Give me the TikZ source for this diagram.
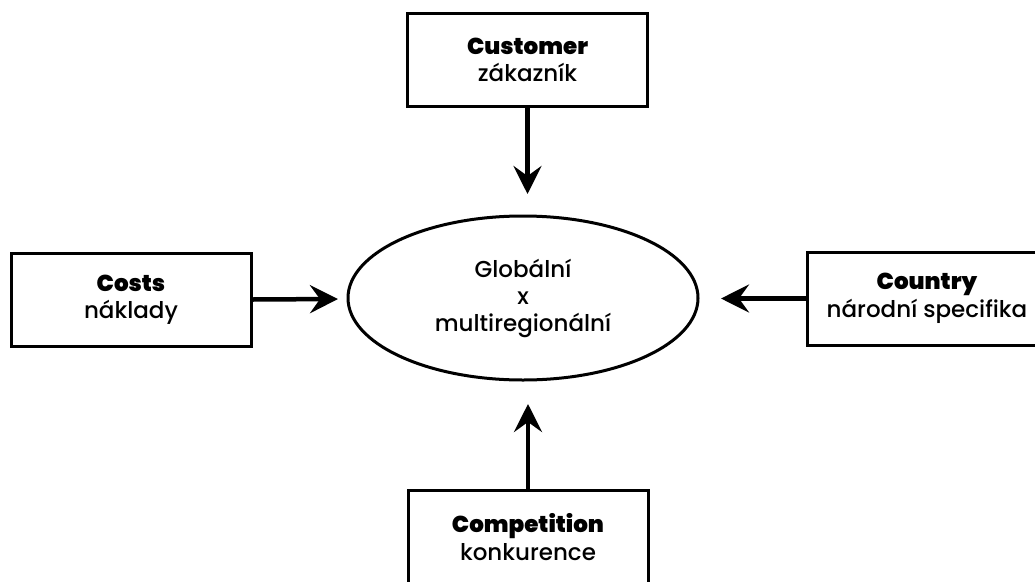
\documentclass[tikz,border=0pt]{standalone}
\usepackage{fontspec}
\setmainfont{Poppins Medium}[BoldFont={Poppins Black}]
\usetikzlibrary{arrows.meta,shapes.geometric}
\begin{document}
\begin{tikzpicture}[x=1pt,y=-1pt,
  factor/.style={draw=black,line width=3pt,minimum width=240pt,minimum height=93pt,
    align=center,inner sep=0pt,font=\fontsize{23}{27.5}\selectfont},
  core/.style={draw=black,ellipse,line width=3pt,minimum width=350pt,minimum height=164pt,
    align=center,inner sep=0pt,font=\fontsize{23}{27}\selectfont},
  push/.style={line width=4.5pt,-{Stealth[length=28pt,width=28pt,inset=10pt]}}]
\useasboundingbox (0,0) rectangle (1035,581);
\clip (0,0) rectangle (1035,581);
\fill[white] (0,0) rectangle (1035,581);

\node[core] (ell) at (523,298) {Globální\\x\\multiregionální};

\node[factor] (cust) at (527.5,60)  {\textbf{Customer}\\zákazník};
\node[factor] (cost) at (131,299.5) {\textbf{Costs}\\náklady};
\node[factor] (ctry) at (927,298.5) {\textbf{Country}\\národní specifika};
\node[factor] (comp) at (528,537)   {\textbf{Competition}\\konkurence};

\coordinate (tipT) at (527.5,194);
\coordinate (tipB) at (528,404);
\coordinate (tipL) at (338,299);
\coordinate (tipR) at (721,298.5);

\draw[push] (cust.south) -- (tipT);
\draw[push] (comp.north) -- (tipB);
\draw[push] (cost.east) -- (tipL);
\draw[push] (ctry.west) -- (tipR);
\end{tikzpicture}
\end{document}
